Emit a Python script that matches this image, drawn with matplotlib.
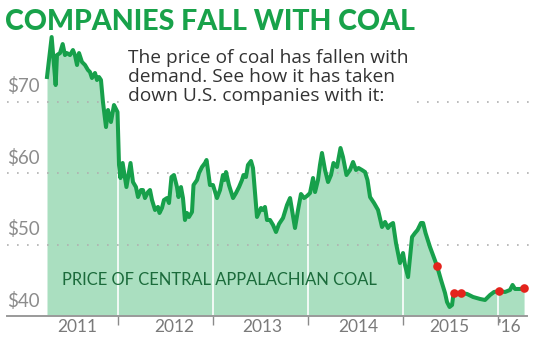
import numpy as np
import matplotlib
matplotlib.use("Agg")
from matplotlib import pyplot as plt

# Central Appalachian coal price, $ per short ton (decimal year, price)
years = [
    2011.253, 2011.302, 2011.344, 2011.358, 2011.390, 2011.418, 2011.442, 2011.463,
    2011.495, 2011.526, 2011.547, 2011.569, 2011.590, 2011.621, 2011.653, 2011.684,
    2011.705, 2011.726, 2011.758, 2011.779, 2011.800, 2011.821, 2011.842, 2011.874,
    2011.895, 2011.926, 2011.958, 2011.984, 2011.995, 2012.011, 2012.026, 2012.049,
    2012.089, 2012.132, 2012.158, 2012.189, 2012.211, 2012.242, 2012.263, 2012.284,
    2012.316, 2012.337, 2012.358, 2012.390, 2012.421, 2012.437, 2012.463, 2012.484,
    2012.516, 2012.537, 2012.563, 2012.589, 2012.621, 2012.637, 2012.663, 2012.684,
    2012.705, 2012.726, 2012.747, 2012.779, 2012.795, 2012.832, 2012.853, 2012.884,
    2012.916, 2012.932, 2012.947, 2012.968, 2013.000, 2013.042, 2013.074, 2013.105,
    2013.121, 2013.137, 2013.168, 2013.211, 2013.242, 2013.274, 2013.305, 2013.321,
    2013.347, 2013.368, 2013.400, 2013.421, 2013.442, 2013.463, 2013.505, 2013.526,
    2013.547, 2013.568, 2013.600, 2013.632, 2013.663, 2013.695, 2013.737, 2013.779,
    2013.811, 2013.832, 2013.863, 2013.895, 2013.926, 2013.958, 2013.989, 2014.021,
    2014.053, 2014.074, 2014.105, 2014.126, 2014.147, 2014.179, 2014.211, 2014.242,
    2014.268, 2014.305, 2014.342, 2014.368, 2014.405, 2014.442, 2014.474, 2014.505,
    2014.532, 2014.568, 2014.600, 2014.626, 2014.653, 2014.695, 2014.737, 2014.779,
    2014.811, 2014.842, 2014.863, 2014.895, 2014.926, 2014.968, 2015.000, 2015.021,
    2015.053, 2015.095, 2015.126, 2015.153, 2015.189, 2015.211, 2015.237, 2015.284,
    2015.358, 2015.400, 2015.442, 2015.463, 2015.490, 2015.516, 2015.532, 2015.611,
    2015.674, 2015.737, 2015.811, 2015.863, 2015.916, 2015.958, 2016.011, 2016.074,
    2016.126, 2016.153, 2016.179, 2016.232, 2016.274,
]
prices = [
    73.43, 79.02, 72.31, 76.50, 76.78, 78.04, 76.50, 76.78,
    76.50, 77.20, 76.50, 75.11, 76.78, 75.53, 75.11, 74.41,
    74.13, 73.29, 73.99, 73.01, 73.43, 73.01, 69.93, 66.43,
    68.81, 67.13, 69.51, 68.81, 68.53, 61.12, 59.30, 61.40,
    58.04, 61.40, 58.74, 58.04, 56.64, 57.62, 57.62, 56.50,
    57.34, 57.62, 56.22, 54.83, 55.25, 54.41, 55.11, 56.22,
    56.50, 55.80, 59.44, 59.72, 58.04, 56.64, 58.04, 56.50,
    53.43, 54.41, 53.85, 54.55, 58.32, 59.02, 60.00, 60.84,
    61.40, 61.82, 60.42, 58.32, 58.32, 56.50, 57.62, 59.72,
    59.02, 60.14, 58.32, 56.50, 57.20, 58.04, 59.02, 59.72,
    59.44, 61.12, 61.68, 60.70, 57.20, 53.85, 55.11, 54.83,
    55.25, 53.43, 53.43, 52.73, 51.75, 52.87, 53.71, 55.53,
    56.50, 54.83, 52.31, 54.83, 57.06, 56.50, 56.78, 57.20,
    59.30, 57.34, 59.02, 61.12, 62.80, 60.42, 58.74, 59.72,
    61.40, 60.84, 63.50, 62.24, 59.72, 60.42, 61.54, 60.42,
    60.70, 60.42, 60.14, 59.02, 56.64, 55.80, 54.83, 52.45,
    53.15, 52.31, 52.73, 53.01, 50.21, 47.41, 48.81, 47.13,
    45.45, 51.05, 51.61, 52.03, 53.01, 53.01, 51.61, 49.65,
    46.99, 45.04, 43.22, 41.96, 41.26, 41.54, 43.22, 43.22,
    43.08, 42.66, 42.38, 42.24, 42.94, 43.36, 43.50, 43.36,
    43.64, 44.34, 43.78, 43.78, 43.92,
]

# dates highlighted with red markers
event_years = [2015.358, 2015.532, 2015.611, 2016.011, 2016.274]
event_prices = [46.99, 43.22, 43.22, 43.50, 43.92]

year_breaks = [2012, 2013, 2014, 2015, 2016]
year_labels = ["2011", "2012", "2013", "2014", "2015", "'16"]
year_label_pos = [2011.569, 2012.589, 2013.516, 2014.526, 2015.484, 2016.126]

price_ticks = [40, 50, 60, 70]
price_labels = ["$40", "$50", "$60", "$70"]

line_green = "#17a04b"
fill_green = "#aadfc0"
title_green = "#18a24a"
dark_green = "#1b6b3b"
grey = "#8a8a8a"

plt.rcParams["font.family"] = ["Lato", "DejaVu Sans"]

fig = plt.figure(figsize=(5.41, 3.40), dpi=100)
ax = fig.add_axes([7 / 541, 24 / 340, 526 / 541, 316 / 340])
ax.set_xlim(2010.832, 2016.368)
ax.set_ylim(40, 84.2)
ax.set_facecolor("none")

fill = ax.fill_between(years, prices, 40, color=fill_green, lw=0, zorder=1)

# white year dividers, only inside the shaded area
for yb in year_breaks:
    v = ax.axvline(yb, color="white", lw=1.2, zorder=2)
    v.set_clip_path(fill.get_paths()[0], fill.get_transform())

for gy in [50, 60, 70]:
    ax.axhline(gy, color="#b0b0b0", lw=1.2, linestyle=(0, (1, 5)), zorder=2)

ax.plot(years, prices, color=line_green, lw=2.9, solid_joinstyle="round", zorder=3)
ax.plot(event_years, event_prices, "o", color="#e4231c", ms=6.2, mec="none", zorder=4)

for s in ["top", "right", "left"]:
    ax.spines[s].set_visible(False)
ax.spines["bottom"].set_color("#9a9a9a")
ax.spines["bottom"].set_linewidth(1.4)
ax.spines["bottom"].set_bounds(2010.832, 2016.31)
ax.spines["bottom"].set_zorder(5)
ax.set_yticks([])
ax.set_xticks(year_breaks)
ax.set_xticklabels([])
ax.tick_params(axis="x", length=6.5, width=1.0, color=grey, direction="out")

for lab, pos in zip(year_labels, year_label_pos):
    ax.text(pos, 37.78, lab, ha="center", va="baseline", fontsize=12.5,
            color="#7a7a7a", clip_on=False)

for val, lab in zip(price_ticks, price_labels):
    ax.text(2010.832, val + 1.3, lab, ha="left", va="baseline", fontsize=13.5,
            color="#8c8c8c")

ax.text(2011.411, 44.34, "PRICE OF CENTRAL APPALACHIAN COAL", ha="left", va="baseline",
        fontsize=11.9, color=dark_green, zorder=6)

fig.text(5 / 541, 1 - 30 / 340, "COMPANIES FALL WITH COAL", ha="left", va="baseline",
         fontsize=20.5, fontweight="black", color=title_green)

fig.text(128 / 541, 1 - 101 / 340,
         "The price of coal has fallen with\ndemand. See how it has taken\ndown U.S. companies with it:",
         ha="left", va="baseline", fontsize=13.8, color="#333333", linespacing=1.08,
         family=["Open Sans", "DejaVu Sans"],
         bbox=dict(facecolor="white", edgecolor="none", pad=2.5), zorder=7)

fig.savefig("out.png", dpi=100)
